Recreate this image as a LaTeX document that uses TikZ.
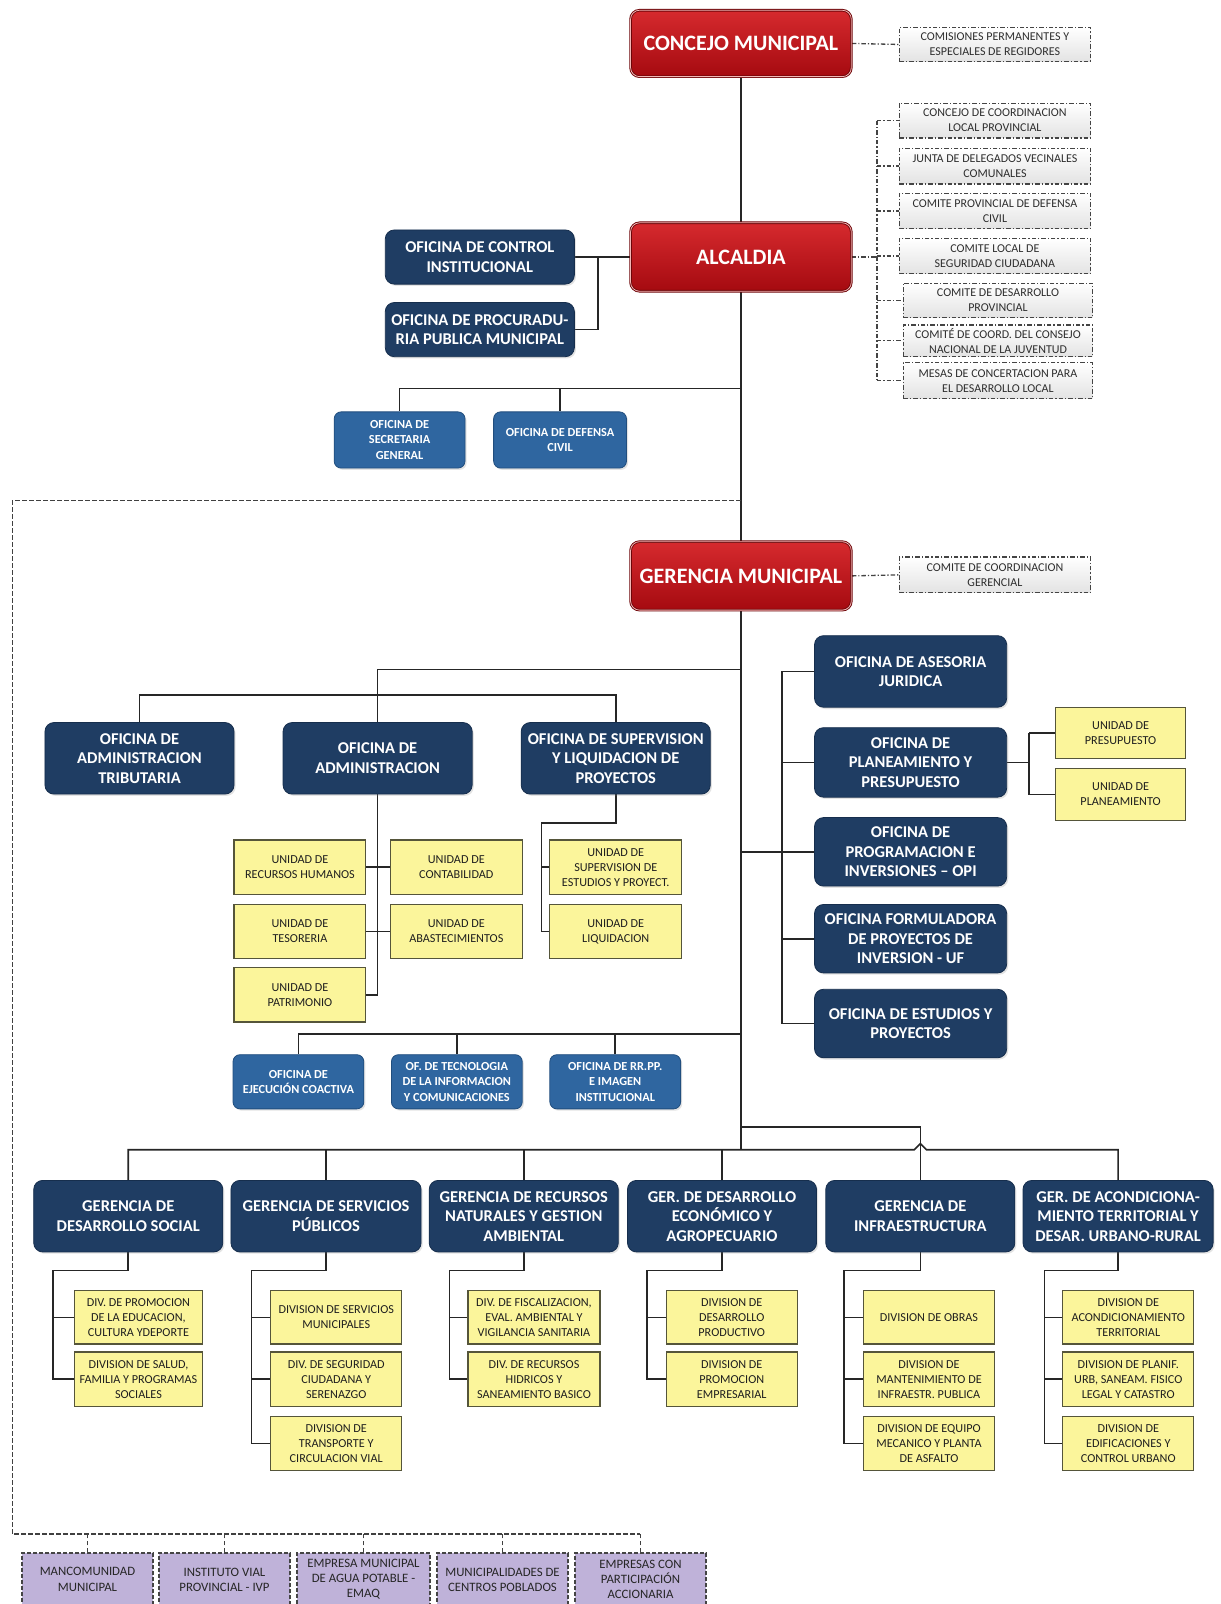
\documentclass[tikz,border=0pt]{standalone}
\usepackage{fontspec}
\setmainfont{Carlito}
\usetikzlibrary{calc,shadows}
\pgfdeclarelayer{back}
\pgfdeclarelayer{bg}
\pgfsetlayers{back,bg,main}
\definecolor{redA}{HTML}{D62A2E}
\definecolor{redB}{HTML}{A50A10}
\definecolor{redE}{HTML}{6E0508}
\definecolor{redL}{HTML}{F3B7B7}
\definecolor{blueD}{HTML}{1F3D63}
\definecolor{blueDE}{HTML}{162E4D}
\definecolor{blueM}{HTML}{2F66A0}
\definecolor{blueME}{HTML}{214E7E}
\definecolor{yelF}{HTML}{FBF59B}
\definecolor{yelE}{HTML}{55553A}
\definecolor{purF}{HTML}{BFB2D9}
\definecolor{grayE}{HTML}{444444}
\definecolor{lineC}{HTML}{262626}
\newcommand\mkbox[7]{\node[#2, minimum width={(#5-#3)*1.022}, minimum height={(#6-#4)*1.022}] (#1) at ({(#3+#5)/2},{(#4+#6)/2}) {#7};}
\tikzset{
  every node/.style={inner sep=1pt, align=center},
  shad/.style={drop shadow={opacity=0.22, shadow xshift=1.6pt, shadow yshift=-1.8pt}},
  redbox/.style={rounded corners=9pt, top color=redA, bottom color=redB, draw=redE, double=redL, double distance=0.8pt, line width=0.9pt, text=white, font=\fontsize{22}{25}\selectfont\bfseries},
  bluebox/.style={shad, rounded corners=9pt, fill=blueD, draw=blueDE, line width=0.8pt, text=white, font=\fontsize{16.5}{19.5}\selectfont\bfseries},
  mbluebox/.style={shad, rounded corners=7pt, fill=blueM, draw=blueME, line width=0.8pt, text=white, font=\fontsize{12.3}{15.3}\selectfont\bfseries},
  ybox/.style={fill=yelF, draw=yelE, line width=1.2pt, text=black!88, font=\fontsize{12.2}{15}\selectfont},
  dbox/.style={top color=white, bottom color=black!11, draw=grayE, line width=1.1pt, dash pattern=on 4.5pt off 2pt on 1.2pt off 2pt, text=black!82, font=\fontsize{12}{15}\selectfont},
  pbox/.style={fill=purF, draw=grayE, line width=1.3pt, dash pattern=on 4pt off 2pt, text=black!85, font=\fontsize{12.8}{15.2}\selectfont},
  conn/.style={draw=lineC, line width=1.6pt},
  dconn/.style={draw=grayE, line width=1.3pt, dash pattern=on 4.5pt off 2pt on 1.2pt off 2pt},
  bconn/.style={draw=black!75, line width=1.4pt, dash pattern=on 4.5pt off 2.5pt},
}
\begin{document}
\begin{tikzpicture}[x=1.022pt, y=-1.022pt]
\useasboundingbox (0,0) rectangle (1194.7,1569.5);
\begin{pgfonlayer}{back}
\fill[white] (0,0) rectangle (1194.7,1569.5);
\end{pgfonlayer}
% top
\mkbox{con}{redbox}{617}{10}{833}{75}{CONCEJO MUNICIPAL}
\mkbox{com}{dbox}{880}{27}{1067}{60}{COMISIONES PERMANENTES Y\\ESPECIALES DE REGIDORES}
\mkbox{alc}{redbox}{617}{218}{833}{285}{ALCALDIA}
\mkbox{d1}{dbox}{880}{101}{1067}{135}{CONCEJO DE COORDINACION\\LOCAL PROVINCIAL}
\mkbox{d2}{dbox}{880}{145}{1067}{180}{JUNTA DE DELEGADOS VECINALES\\COMUNALES}
\mkbox{d3}{dbox}{880}{189}{1067}{224}{COMITE PROVINCIAL DE DEFENSA\\CIVIL}
\mkbox{d4}{dbox}{880}{233}{1067}{268}{COMITE LOCAL DE\\SEGURIDAD CIUDADANA}
\mkbox{d5}{dbox}{884}{277}{1069}{311}{COMITE DE DESARROLLO\\PROVINCIAL}
\mkbox{d6}{dbox}{884}{318}{1069}{349}{COMITÉ DE COORD. DEL CONSEJO\\NACIONAL DE LA JUVENTUD}
\mkbox{d7}{dbox}{884}{355}{1069}{390}{MESAS DE CONCERTACION PARA\\EL DESARROLLO LOCAL}
\mkbox{ctl}{bluebox}{377}{225}{562}{278}{OFICINA DE CONTROL\\INSTITUCIONAL}
\mkbox{pro}{bluebox}{377}{296}{562}{349}{OFICINA DE PROCURADU-\\RIA PUBLICA MUNICIPAL}
\mkbox{sec}{mbluebox}{327}{403}{455}{458}{OFICINA DE\\SECRETARIA\\GENERAL}
\mkbox{dcv}{mbluebox}{483}{403}{613}{458}{OFICINA DE DEFENSA\\CIVIL}
% gerencia municipal
\mkbox{gm}{redbox}{617}{530}{833}{597}{GERENCIA MUNICIPAL}
\mkbox{cg}{dbox}{880}{545}{1067}{580}{COMITE DE COORDINACION\\GERENCIAL}
\mkbox{oat}{bluebox}{44}{707}{229}{777}{OFICINA DE\\ADMINISTRACION\\TRIBUTARIA}
\mkbox{oad}{bluebox}{277}{707}{462}{777}{OFICINA DE\\ADMINISTRACION}
\mkbox{osl}{bluebox}{510}{707}{695}{777}{OFICINA DE SUPERVISION\\Y LIQUIDACION DE\\PROYECTOS}
\mkbox{uRH}{ybox}{229}{822}{358}{875}{UNIDAD DE\\RECURSOS HUMANOS}
\mkbox{uCO}{ybox}{382}{822}{511}{875}{UNIDAD DE\\CONTABILIDAD}
\mkbox{uTE}{ybox}{229}{885}{358}{938}{UNIDAD DE\\TESORERIA}
\mkbox{uAB}{ybox}{382}{885}{511}{938}{UNIDAD DE\\ABASTECIMIENTOS}
\mkbox{uPA}{ybox}{229}{947}{358}{1000}{UNIDAD DE\\PATRIMONIO}
\mkbox{uSU}{ybox}{538}{822}{667}{875}{UNIDAD DE\\SUPERVISION DE\\ESTUDIOS Y PROYECT.}
\mkbox{uLI}{ybox}{538}{885}{667}{938}{UNIDAD DE\\LIQUIDACION}
\mkbox{ase}{bluebox}{797}{622}{985}{692}{OFICINA DE ASESORIA\\JURIDICA}
\mkbox{opp}{bluebox}{797}{712}{985}{780}{OFICINA DE\\PLANEAMIENTO Y\\PRESUPUESTO}
\mkbox{opi}{bluebox}{797}{800}{985}{867}{OFICINA DE\\PROGRAMACION E\\INVERSIONES – OPI}
\mkbox{ouf}{bluebox}{797}{885}{985}{952}{OFICINA FORMULADORA\\DE PROYECTOS DE\\INVERSION - UF}
\mkbox{oep}{bluebox}{797}{968}{985}{1035}{OFICINA DE ESTUDIOS Y\\PROYECTOS}
\mkbox{uPR}{ybox}{1033}{692}{1160}{742}{UNIDAD DE\\PRESUPUESTO}
\mkbox{uPL}{ybox}{1033}{752}{1160}{803}{UNIDAD DE\\PLANEAMIENTO}
\mkbox{eco}{mbluebox}{228}{1032}{356}{1085}{OFICINA DE\\EJECUCIÓN COACTIVA}
\mkbox{tic}{mbluebox}{383}{1032}{511}{1085}{OF. DE TECNOLOGIA\\DE LA INFORMACION\\Y COMUNICACIONES}
\mkbox{rrp}{mbluebox}{538}{1032}{666}{1085}{OFICINA DE RR.PP.\\E IMAGEN\\INSTITUCIONAL}
% gerencias
\mkbox{g1}{bluebox}{33}{1155}{218}{1225}{GERENCIA DE\\DESARROLLO SOCIAL}
\mkbox{g2}{bluebox}{226}{1155}{412}{1225}{GERENCIA DE SERVICIOS\\PÚBLICOS}
\mkbox{g3}{bluebox}{420}{1155}{605}{1225}{GERENCIA DE RECURSOS\\NATURALES Y GESTION\\AMBIENTAL}
\mkbox{g4}{bluebox}{614}{1155}{799}{1225}{GER. DE DESARROLLO\\ECONÓMICO Y\\AGROPECUARIO}
\mkbox{g5}{bluebox}{808}{1155}{993}{1225}{GERENCIA DE\\INFRAESTRUCTURA}
\mkbox{g6}{bluebox}{1001}{1155}{1187}{1225}{GER. DE ACONDICIONA-\\MIENTO TERRITORIAL Y\\DESAR. URBANO-RURAL}
\mkbox{s1a}{ybox}{73}{1263}{198}{1315}{DIV. DE PROMOCION\\DE LA EDUCACION,\\CULTURA YDEPORTE}
\mkbox{s1b}{ybox}{73}{1323}{198}{1376}{DIVISION DE SALUD,\\FAMILIA Y PROGRAMAS\\SOCIALES}
\mkbox{s2a}{ybox}{265}{1263}{393}{1315}{DIVISION DE SERVICIOS\\MUNICIPALES}
\mkbox{s2b}{ybox}{265}{1323}{393}{1376}{DIV. DE SEGURIDAD\\CIUDADANA Y\\SERENAZGO}
\mkbox{s2c}{ybox}{265}{1386}{393}{1439}{DIVISION DE\\TRANSPORTE Y\\CIRCULACION VIAL}
\mkbox{s3a}{ybox}{458}{1263}{587}{1315}{DIV. DE FISCALIZACION,\\EVAL. AMBIENTAL Y\\VIGILANCIA SANITARIA}
\mkbox{s3b}{ybox}{458}{1323}{587}{1376}{DIV. DE RECURSOS\\HIDRICOS Y\\SANEAMIENTO BASICO}
\mkbox{s4a}{ybox}{652}{1263}{780}{1315}{DIVISION DE\\DESARROLLO\\PRODUCTIVO}
\mkbox{s4b}{ybox}{652}{1323}{780}{1376}{DIVISION DE\\PROMOCION\\EMPRESARIAL}
\mkbox{s5a}{ybox}{845}{1263}{973}{1315}{DIVISION DE OBRAS}
\mkbox{s5b}{ybox}{845}{1323}{973}{1376}{DIVISION DE\\MANTENIMIENTO DE\\INFRAESTR. PUBLICA}
\mkbox{s5c}{ybox}{845}{1386}{973}{1439}{DIVISION DE EQUIPO\\MECANICO Y PLANTA\\DE ASFALTO}
\mkbox{s6a}{ybox}{1040}{1263}{1168}{1315}{DIVISION DE\\ACONDICIONAMIENTO\\TERRITORIAL}
\mkbox{s6b}{ybox}{1040}{1323}{1168}{1376}{DIVISION DE PLANIF.\\URB, SANEAM. FISICO\\LEGAL Y CATASTRO}
\mkbox{s6c}{ybox}{1040}{1386}{1168}{1439}{DIVISION DE\\EDIFICACIONES Y\\CONTROL URBANO}
% purple
\mkbox{p1}{pbox}{21.5}{1519.6}{149.7}{1571.4}{MANCOMUNIDAD\\MUNICIPAL}
\mkbox{p2}{pbox}{155.6}{1519.6}{283.8}{1571.4}{INSTITUTO VIAL\\PROVINCIAL - IVP}
\mkbox{p3}{pbox}{290.6}{1519.6}{420.7}{1571.4}{EMPRESA MUNICIPAL\\DE AGUA POTABLE -\\EMAQ}
\mkbox{p4}{pbox}{427.6}{1519.6}{555.8}{1571.4}{MUNICIPALIDADES DE\\CENTROS POBLADOS}
\mkbox{p5}{pbox}{562.6}{1519.6}{690.8}{1571.4}{EMPRESAS CON\\PARTICIPACIÓN\\ACCIONARIA}
% coordinates
\coordinate (ab) at (858,251.5);
\coordinate (cj) at (585,251.5);
\coordinate (t1) at (725,380);
\coordinate (bd1) at (725,490);
\coordinate (bd2) at (12,490);
\coordinate (bd3) at (12,1501);
\coordinate (lb1) at (725,655);
\coordinate (lbus) at (0,680);
\coordinate (sj) at (530,805);
\coordinate (rj) at (765,0);
\coordinate (pj) at (1007,0);
\coordinate (sb) at (0,1012);
\coordinate (gb) at (0,1125);
\coordinate (ib) at (725,1103);
\coordinate (c1) at (52,1243);
\coordinate (c2) at (246,1243);
\coordinate (c3) at (440,1243);
\coordinate (c4) at (633,1243);
\coordinate (c5) at (826,1243);
\coordinate (c6) at (1022,1243);
\begin{pgfonlayer}{bg}
% trunk
\draw[conn] (con.south) -- (gm.north);
\draw[conn] (gm.south) -- (gm.south |- gb);
\draw[dconn] (con.east) -- (com.west);
\draw[dconn] (gm.east) -- (cg.west);
\draw[dconn] (alc.east) -- (ab);
\draw[dconn] (d1.west -| ab) -- (d7.west -| ab);
\foreach \d in {d1,d2,d3,d4,d5,d6,d7} \draw[dconn] (\d.west -| ab) -- (\d.west);
\draw[conn] (ctl.east) -- (alc.west);
\draw[conn] (cj) |- (pro.east);
\draw[conn] (t1) -| (sec.north);
\draw[conn] (dcv.north) -- (dcv.north |- t1);
\draw[bconn] (bd1) -- (bd2) -- (bd3) -- (bd3 -| p5.north);
\foreach \p in {p1,p2,p3,p4,p5} \draw[bconn] (\p.north) -- (\p.north |- bd3);
% left offices
\draw[conn] (lb1) -| (oad.north);
\draw[conn] (oat.north) -- (oat.north |- lbus) -- (osl.north |- lbus) -- (osl.north);
\draw[conn] (oad.south) -- (oad.south |- uPA.east) -- (uPA.east);
\draw[conn] (uRH.east) -- (uCO.west);
\draw[conn] (uTE.east) -- (uAB.west);
\draw[conn] (osl.south) |- (sj) |- (uLI.west);
\draw[conn] (sj |- uSU.west) -- (uSU.west);
% right offices
\draw[conn] (ase.west -| rj) -- (oep.west -| rj);
\foreach \o in {ase,opp,ouf,oep} \draw[conn] (\o.west -| rj) -- (\o.west);
\draw[conn] (opi.west -| gm.south) -- (opi.west);
\draw[conn] (opp.east) -- (opp.east -| pj);
\draw[conn] (uPR.west -| pj) -- (uPL.west -| pj);
\draw[conn] (uPR.west -| pj) -- (uPR.west);
\draw[conn] (uPL.west -| pj) -- (uPL.west);
% small row
\draw[conn] (eco.north) -- (eco.north |- sb) -- (sb -| gm.south);
\draw[conn] (tic.north) -- (tic.north |- sb);
\draw[conn] (rrp.north) -- (rrp.north |- sb);
% gerencias bus
\draw[conn] (g1.north) -- (g1.north |- gb) -- ($(g5.north |- gb)+(-6,0)$) -- ++(6,-6) -- ++(6,6) -- (g6.north |- gb) -- (g6.north);
\foreach \g in {g2,g3,g4} \draw[conn] (\g.north) -- (\g.north |- gb);
\draw[conn] (ib) -| (g5.north);
% gerencia subs
\draw[conn] (g1.south) |- (c1) |- (s1b.west);
\draw[conn] (c1 |- s1a.west) -- (s1a.west);
\draw[conn] (g2.south) |- (c2) |- (s2c.west);
\foreach \s in {s2a,s2b} \draw[conn] (c2 |- \s.west) -- (\s.west);
\draw[conn] (g3.south) |- (c3) |- (s3b.west);
\draw[conn] (c3 |- s3a.west) -- (s3a.west);
\draw[conn] (g4.south) |- (c4) |- (s4b.west);
\draw[conn] (c4 |- s4a.west) -- (s4a.west);
\draw[conn] (g5.south) |- (c5) |- (s5c.west);
\foreach \s in {s5a,s5b} \draw[conn] (c5 |- \s.west) -- (\s.west);
\draw[conn] (g6.south) |- (c6) |- (s6c.west);
\foreach \s in {s6a,s6b} \draw[conn] (c6 |- \s.west) -- (\s.west);
\end{pgfonlayer}
\end{tikzpicture}
\end{document}
